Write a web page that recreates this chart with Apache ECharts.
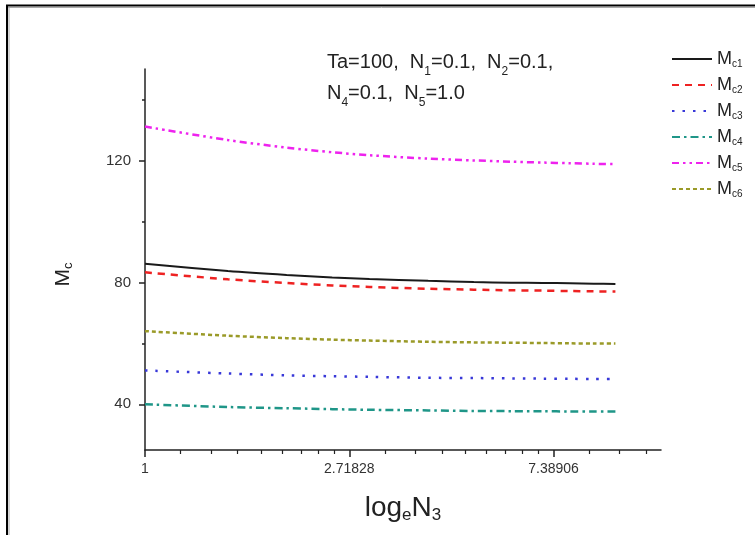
<!DOCTYPE html>
<html>
<head>
<meta charset="utf-8">
<script src="https://cdn.jsdelivr.net/npm/echarts@6/dist/echarts.min.js"></script>
<style>
  html, body { margin: 0; padding: 0; background: #fff; }
  #chart { width: 755px; height: 535px; }
</style>
</head>
<body>
<div id="chart"></div>
<script>
// N3 values (log_e axis)
const n3 = [1, 1.5, 2, 2.5, 3, 4, 5, 6, 7, 8, 9, 10]

const mc1 = [86.1, 83.7, 82.4, 81.6, 81.1, 80.5, 80.1, 79.9, 79.8, 79.7, 79.55, 79.5]
const mc2 = [83.3, 81.0, 79.8, 79.0, 78.5, 77.9, 77.6, 77.4, 77.3, 77.15, 77.05, 77.0]
const mc3 = [51.1, 50.1, 49.5, 49.2, 49.0, 48.7, 48.6, 48.5, 48.4, 48.35, 48.3, 48.3]
const mc4 = [40.0, 39.1, 38.7, 38.4, 38.2, 38.0, 37.8, 37.75, 37.7, 37.65, 37.6, 37.6]
const mc5 = [131.1, 126.7, 124.2, 122.7, 121.7, 120.6, 120.0, 119.6, 119.3, 119.1, 118.9, 118.8]
const mc6 = [64.0, 62.5, 61.7, 61.2, 60.9, 60.5, 60.3, 60.2, 60.1, 60.0, 59.93, 59.9]

// tick marks
const xMajorTicks = [1, 2.718281828, 7.389056099]
const xMinorTicks = [1.191, 1.382, 1.573, 1.764, 1.955, 2.146, 2.337, 2.528,
  3.237, 3.756, 4.275, 4.794, 5.313, 5.832, 6.351, 6.870, 8.800, 10.21, 11.62]
const yMajorTicks = [40, 80, 120]
const yMinorTicks = [60, 100, 140]

const font = 'Liberation Sans, Arial, sans-serif'

const makeSeries = (name, values, color, type, width) => ({
  name,
  type: 'line',
  data: n3.map((x, i) => [x, values[i]]),
  symbol: 'none',
  smooth: 0.3,
  lineStyle: { color, type, width },
  itemStyle: { color },
})

const chart = echarts.init(document.getElementById('chart'))

const options = {
  animation: false,
  backgroundColor: '#fff',
  textStyle: { fontFamily: font },
  grid: { left: 145, right: 94, top: 69, bottom: 85 },
  legend: {
    orient: 'vertical',
    left: 666,
    top: 45,
    itemWidth: 40,
    itemHeight: 12,
    itemGap: 6.5,
    itemStyle: { opacity: 0 },
    formatter: name => '{m|M}{s|' + name.slice(1) + '}',
    textStyle: {
      rich: {
        m: { fontSize: 18, color: '#222', fontFamily: font, lineHeight: 21 },
        s: { fontSize: 10, color: '#222', fontFamily: font, verticalAlign: 'bottom', lineHeight: 10 },
      },
    },
  },
  xAxis: [{
    type: 'log',
    logBase: Math.E,
    min: 1,
    max: 12.5,
    position: 'bottom',
    name: '{m|log}{s|e}{m|N}{s|3}',
    nameLocation: 'middle',
    nameGap: 42,
    nameTextStyle: {
      rich: {
        m: { fontSize: 28, color: '#222', fontFamily: font, lineHeight: 32 },
        s: { fontSize: 17, color: '#222', fontFamily: font, verticalAlign: 'bottom', lineHeight: 14 },
      },
    },
    axisLine: { lineStyle: { color: '#222', width: 1.5 } },
    axisTick: { customValues: xMajorTicks, length: 7, lineStyle: { color: '#222', width: 1.5 } },
    axisLabel: {
      customValues: xMajorTicks,
      margin: 12,
      fontSize: 14,
      color: '#333',
      formatter: v => String(Number(v.toFixed(5))),
    },
    splitLine: { show: false },
    minorTick: { show: false },
  }, {
    type: 'log',
    logBase: Math.E,
    min: 1,
    max: 12.5,
    position: 'bottom',
    axisLine: { show: false },
    axisTick: { customValues: xMinorTicks, length: 4, lineStyle: { color: '#222', width: 1.2 } },
    axisLabel: { show: false },
    splitLine: { show: false },
  }],
  yAxis: [{
    type: 'value',
    min: 25,
    max: 150,
    name: '{m|M}{s|c}',
    nameLocation: 'middle',
    nameGap: 70,
    nameRotate: 90,
    nameTextStyle: {
      padding: [0, 30, 0, 0],
      rich: {
        m: { fontSize: 21, color: '#222', fontFamily: font, lineHeight: 24 },
        s: { fontSize: 13, color: '#222', fontFamily: font, verticalAlign: 'bottom', lineHeight: 12 },
      },
    },
    axisLine: { show: true, lineStyle: { color: '#222', width: 1.5 } },
    axisTick: { customValues: yMajorTicks, length: 6, lineStyle: { color: '#222', width: 1.5 } },
    axisLabel: { customValues: yMajorTicks, margin: 14, fontSize: 15, color: '#333' },
    splitLine: { show: false },
  }, {
    type: 'value',
    min: 25,
    max: 150,
    position: 'left',
    axisLine: { show: false },
    axisTick: { show: true, customValues: yMinorTicks, length: 3, lineStyle: { color: '#222', width: 1.5 } },
    axisLabel: { show: false },
    splitLine: { show: false },
  }],
  graphic: [
    { type: 'line', shape: { x1: 6, y1: 5.5, x2: 755, y2: 5.5 }, style: { stroke: '#000', lineWidth: 2 } },
    { type: 'line', shape: { x1: 8, y1: 7.5, x2: 755, y2: 7.5 }, style: { stroke: '#aaa', lineWidth: 1 } },
    { type: 'line', shape: { x1: 7, y1: 5, x2: 7, y2: 535 }, style: { stroke: '#000', lineWidth: 2 } },
    { type: 'line', shape: { x1: 9, y1: 7, x2: 9, y2: 535 }, style: { stroke: '#aaa', lineWidth: 1 } },
    {
      type: 'text',
      left: 327,
      top: 52,
      style: {
        text: '{m|Ta=100,  N}{s|1}{m|=0.1,  N}{s|2}{m|=0.1,}\n{m|N}{s|4}{m|=0.1,  N}{s|5}{m|=1.0}',
        rich: {
          m: { fontSize: 20, fill: '#222', fontFamily: font, lineHeight: 31 },
          s: { fontSize: 12, fill: '#222', fontFamily: font, verticalAlign: 'bottom', lineHeight: 22 },
        },
      },
    },
  ],
  series: [
    makeSeries('Mc1', mc1, '#1a1a1a', 'solid', 2),
    makeSeries('Mc2', mc2, '#ee2222', [7, 6], 2.5),
    makeSeries('Mc3', mc3, '#3838d8', [2.5, 8], 2.5),
    makeSeries('Mc4', mc4, '#1f9688', [8, 4, 2.5, 4], 2.5),
    makeSeries('Mc5', mc5, '#ee22ee', [7, 4, 2.5, 4, 2.5, 4], 2.5),
    makeSeries('Mc6', mc6, '#9a9a28', [4, 3], 2.5),
  ],
}

chart.setOption(options)
</script>
</body>
</html>
